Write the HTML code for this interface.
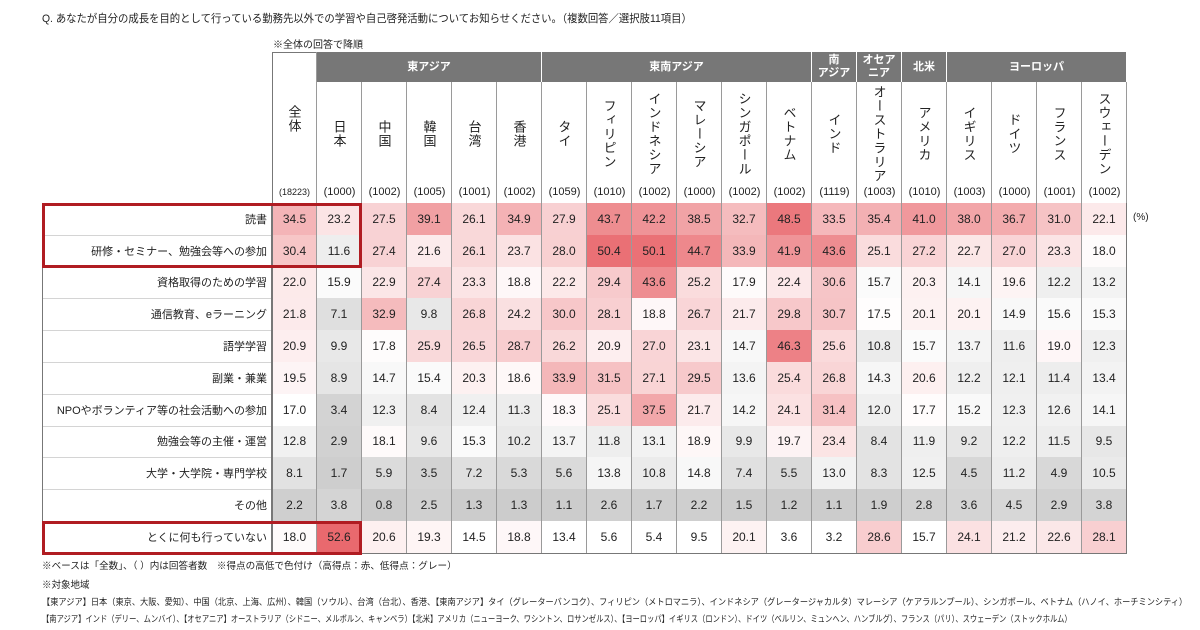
<!DOCTYPE html>
<html><head><meta charset="utf-8">
<style>
body{margin:0;width:1200px;height:630px;background:#fff;font-family:"Liberation Sans","Noto Sans CJK JP",sans-serif;color:#222;position:relative;overflow:hidden}
.a{position:absolute;box-sizing:border-box}
.cell{position:absolute;box-sizing:border-box;display:flex;align-items:center;justify-content:center;font-size:12px;border-right:1px solid #9a9a9a;border-bottom:1px solid #d4d4d4}
.lab{position:absolute;box-sizing:border-box;display:flex;align-items:center;justify-content:flex-end;padding-right:4px;font-size:11px;border-bottom:1px solid #d4d4d4;border-right:1px solid #777}
.grp{position:absolute;box-sizing:border-box;background:#777;color:#fff;font-weight:bold;font-size:11px;display:flex;align-items:center;justify-content:center;text-align:center;line-height:13px;border-right:1px solid #fff}
.hd{position:absolute;box-sizing:border-box;display:flex;align-items:center;justify-content:center;border-right:1px solid #9a9a9a;font-size:13px}
.hd span{writing-mode:vertical-rl;letter-spacing:1px}
.cnt{position:absolute;font-size:11px;text-align:center}
.foot{position:absolute;font-size:9.5px;white-space:nowrap;transform-origin:0 0}
</style></head><body>
<div class="a fit" data-w="650" style="left:42px;top:10px;font-size:11px;white-space:nowrap;transform-origin:0 0">Q. あなたが自分の成長を目的として行っている勤務先以外での学習や自己啓発活動についてお知らせください。（複数回答／選択肢11項目）</div>
<div class="a" style="left:273px;top:36px;font-size:10px">※全体の回答で降順</div>
<div class="a" style="left:1133px;top:212px;font-size:10px">(%)</div>
<div id="tbl"></div>
<div class="foot fit" data-w="415" style="left:42px;top:558px">※ベースは「全数」、（ ）内は回答者数　※得点の高低で色付け（高得点：赤、低得点：グレー）</div>
<div class="foot" style="left:42px;top:577px">※対象地域</div>
<div class="foot fit" data-w="1145" style="left:42px;top:595px;font-size:9px">【東アジア】日本（東京、大阪、愛知）、中国（北京、上海、広州）、韓国（ソウル）、台湾（台北）、香港、【東南アジア】タイ（グレーターバンコク）、フィリピン（メトロマニラ）、インドネシア（グレータージャカルタ）マレーシア（ケアラルンプール）、シンガポール、ベトナム（ハノイ、ホーチミンシティ）</div>
<div class="foot fit" data-w="1030" style="left:42px;top:612px;font-size:9px">【南アジア】インド（デリー、ムンバイ）、【オセアニア】オーストラリア（シドニー、メルボルン、キャンベラ）【北米】アメリカ（ニューヨーク、ワシントン、ロサンゼルス）、【ヨーロッパ】イギリス（ロンドン）、ドイツ（ベルリン、ミュンヘン、ハンブルグ）、フランス（パリ）、スウェーデン（ストックホルム）</div>
<script>
const countries=["全体","日本","中国","韓国","台湾","香港","タイ","フィリピン","インドネシア","マレーシア","シンガポール","ベトナム","インド","オーストラリア","アメリカ","イギリス","ドイツ","フランス","スウェーデン"];
const counts=["(18223)","(1000)","(1002)","(1005)","(1001)","(1002)","(1059)","(1010)","(1002)","(1000)","(1002)","(1002)","(1119)","(1003)","(1010)","(1003)","(1000)","(1001)","(1002)"];
const groups=[["東アジア",1,5],["東南アジア",6,11],["南<br>アジア",12,12],["オセア<br>ニア",13,13],["北米",14,14],["ヨーロッパ",15,18]];
const items=["読書","研修・セミナー、勉強会等への参加","資格取得のための学習","通信教育、eラーニング","語学学習","副業・兼業","NPOやボランティア等の社会活動への参加","勉強会等の主催・運営","大学・大学院・専門学校","その他","とくに何も行っていない"];
const v0=[34.5,23.2,27.5,39.1,26.1,34.9,27.9,43.7,42.2,38.5,32.7,48.5,33.5,35.4,41.0,38.0,36.7,31.0,22.1];
const v1=[30.4,11.6,27.4,21.6,26.1,23.7,28.0,50.4,50.1,44.7,33.9,41.9,43.6,25.1,27.2,22.7,27.0,23.3,18.0];
const v2=[22.0,15.9,22.9,27.4,23.3,18.8,22.2,29.4,43.6,25.2,17.9,22.4,30.6,15.7,20.3,14.1,19.6,12.2,13.2];
const v3=[21.8,7.1,32.9,9.8,26.8,24.2,30.0,28.1,18.8,26.7,21.7,29.8,30.7,17.5,20.1,20.1,14.9,15.6,15.3];
const v4=[20.9,9.9,17.8,25.9,26.5,28.7,26.2,20.9,27.0,23.1,14.7,46.3,25.6,10.8,15.7,13.7,11.6,19.0,12.3];
const v5=[19.5,8.9,14.7,15.4,20.3,18.6,33.9,31.5,27.1,29.5,13.6,25.4,26.8,14.3,20.6,12.2,12.1,11.4,13.4];
const v6=[17.0,3.4,12.3,8.4,12.4,11.3,18.3,25.1,37.5,21.7,14.2,24.1,31.4,12.0,17.7,15.2,12.3,12.6,14.1];
const v7=[12.8,2.9,18.1,9.6,15.3,10.2,13.7,11.8,13.1,18.9,9.9,19.7,23.4,8.4,11.9,9.2,12.2,11.5,9.5];
const v8=[8.1,1.7,5.9,3.5,7.2,5.3,5.6,13.8,10.8,14.8,7.4,5.5,13.0,8.3,12.5,4.5,11.2,4.9,10.5];
const v9=[2.2,3.8,0.8,2.5,1.3,1.3,1.1,2.6,1.7,2.2,1.5,1.2,1.1,1.9,2.8,3.6,4.5,2.9,3.8];
const v10=[18.0,52.6,20.6,19.3,14.5,18.8,13.4,5.6,5.4,9.5,20.1,3.6,3.2,28.6,15.7,24.1,21.2,22.6,28.1];
const values=[v0,v1,v2,v3,v4,v5,v6,v7,v8,v9,v10];

const X0=272,CW=45,LX=42,Y0=203,RH=31.8,GT=52,GB=82;
const xOf=i=>X0+i*CW, yOf=r=>Y0+r*RH;
function color(v,noGray){
  const mid=17;
  if(v>=mid){const t=Math.min(1,(v-mid)/35);return `rgb(${Math.round(255-t*22)},${Math.round(255-t*150)},${Math.round(255-t*145)})`;}
  if(noGray){return '#fff';}
  const g=Math.round(200+55*Math.max(0,v)/mid);return `rgb(${g},${g},${g})`;
}
const T=document.getElementById('tbl');
function add(cls,style,html,name){const d=document.createElement('div');d.className=cls;d.style.cssText=style;d.innerHTML=html;


T.appendChild(d);return d;}
add('a',`left:${X0}px;top:${GT}px;width:${CW*19}px;height:${Y0-GT}px;border:1px solid #777;border-bottom:none`,'','header-frame');
groups.forEach(g=>{add('grp',`left:${xOf(g[1])}px;top:${GT}px;width:${(g[2]-g[1]+1)*CW}px;height:${GB-GT}px`,g[0],'group-header');});
countries.forEach((c,i)=>{
  add('hd',`left:${xOf(i)}px;top:${i==0?GT:GB}px;width:${CW}px;height:${i==0?134:104}px`,`<span>${c}</span>`,'country-header');
  add('cnt',`left:${xOf(i)}px;top:186px;width:${CW}px;${i==0?'font-size:9px;top:187px':''}`,counts[i],'sample-count');
  add('a',`left:${xOf(i)+CW-1}px;top:${GB}px;width:1px;height:${Y0-GB}px;background:#9a9a9a`,'','column-divider');
});
items.forEach((it,r)=>{
  add('lab',`left:${LX}px;top:${yOf(r)}px;width:${X0-LX}px;height:${RH+1}px;border-left:1px solid #777`,it,'row-label');
  values[r].forEach((v,i)=>{
    add('cell',`left:${xOf(i)}px;top:${yOf(r)}px;width:${CW}px;height:${RH+1}px;background:${color(v,r==10)};${i==0?'border-left:1px solid #777;':''}`,v.toFixed(1),'heat-cell');
  });
});
add('a',`left:${LX}px;top:${yOf(11)}px;width:${X0-LX+CW*19}px;height:1px;background:#777`,'','table-bottom');
add('a',`left:${xOf(19)-1}px;top:${Y0}px;width:1px;height:${RH*11}px;background:#777`,'','table-right');
add('a',`left:${LX}px;top:${Y0}px;width:${X0-LX}px;height:1px;background:#777`,'','label-top');
add('a',`left:${LX}px;top:${yOf(0)}px;width:${xOf(2)-LX}px;height:${RH*2+1}px;border:3px solid #b01c22`,'','highlight-box-top');
add('a',`left:${LX}px;top:${yOf(10)}px;width:${xOf(2)-LX}px;height:${RH+2}px;border:3px solid #b01c22`,'','highlight-box-bottom');
document.querySelectorAll('.fit').forEach(el=>{const w=el.scrollWidth,t=+el.dataset.w;if(w>0)el.style.transform=`scaleX(${t/w})`;});
</script>
</body></html>
